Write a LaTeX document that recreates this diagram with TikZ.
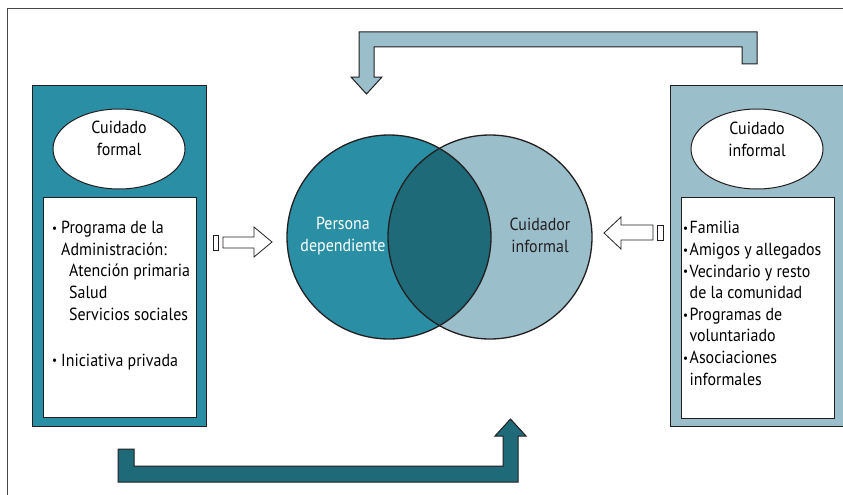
\documentclass[tikz,border=0pt]{standalone}
\usepackage{fontspec}
\usepackage{graphicx}
\setmainfont[FakeStretch=0.91]{PT Sans}
\usetikzlibrary{shapes.geometric}
\definecolor{tealA}{RGB}{42,143,165}
\definecolor{lblue}{RGB}{155,190,203}
\definecolor{dteal}{RGB}{31,106,121}
\definecolor{edge}{RGB}{35,31,32}
\definecolor{framec}{RGB}{70,70,70}
\newcommand{\smbul}{\raisebox{1.2pt}{\scalebox{0.7}{\textbullet}}}
\newcommand{\bulL}{\makebox[9pt][l]{\smbul}}
\newcommand{\bulR}{\makebox[6.5pt][l]{\smbul}}
\begin{document}
\begin{tikzpicture}[x=1pt,y=-1pt,
  txt/.style={font=\fontsize{17.5}{21.6}\selectfont, inner sep=0pt},
  panel/.style={draw=edge, line width=1.4pt, inner sep=0pt, anchor=north west},
  whitebox/.style={draw=edge, line width=1pt, fill=white, inner sep=0pt, anchor=north west},
  oval/.style={ellipse, draw=edge, line width=1pt, fill=white, inner sep=0pt, minimum width=132pt, minimum height=80pt},
  venn/.style={circle, draw=edge, line width=1.3pt, inner sep=0pt, minimum size=204pt},
  blockarrow/.style={draw=edge, line width=1pt, line join=miter},
  outlinearrow/.style={draw=edge, line width=0.8pt, fill=white, line join=miter}]
\useasboundingbox (0,0) rectangle (843,495);
\clip (0,0) rectangle (843,495);
\fill[white] (0,0) rectangle (843,495);
% outer frame (only left and top edges visible)
\coordinate (fbl) at (7.5,500);
\coordinate (ftl) at (7.5,8.5);
\coordinate (ftr) at (850,8.5);
\draw[framec, line width=1.2pt] (fbl) -- (ftl) -- (ftr);

% left panel
\node[panel, fill=tealA, minimum width=174pt, minimum height=341pt] (lpanel) at (32,85) {};
\node[whitebox, minimum width=153pt, minimum height=220pt] (lwhite) at (43,197) {};
\node[oval] (lov) at (119,149) {};
\node[txt, align=center, anchor=base] (lovt) at (119,155.5) {Cuidado\\formal};
\node[txt, align=left, anchor=base west] (ltext) at (52,366)
 {\bulL Programa de la\\
  \hspace*{9pt}Administración:\\
  \hspace*{17pt}Atención primaria\\
  \hspace*{17pt}Salud\\
  \hspace*{17pt}Servicios sociales\\[24.4pt]
  \bulL Iniciativa privada};

% right panel
\node[panel, fill=lblue, minimum width=180pt, minimum height=341pt] (rpanel) at (670,85) {};
\node[whitebox, minimum width=153pt, minimum height=221pt] (rwhite) at (681,197) {};
\node[oval] (rov) at (757,149) {};
\node[txt, align=center, anchor=base] (rovt) at (757,156) {Cuidado\\informal};
\node[txt, align=left, anchor=base west] (rtext) at (683,385)
 {\bulR Familia\\
  \bulR Amigos y allegados\\
  \bulR Vecindario y resto\\
  \hspace*{6.5pt}de la comunidad\\
  \bulR Programas de\\
  \hspace*{6.5pt}voluntariado\\
  \bulR Asociaciones\\
  \hspace*{6.5pt}informales};

% Venn diagram
\node[venn, fill=tealA, draw=none] (pd) at (389,237) {};
\node[venn, fill=lblue, draw=none] (ci) at (490,237) {};
\begin{scope}
  \clip (389,237) circle[radius=102pt];
  \fill[dteal] (490,237) circle[radius=102pt];
\end{scope}
\draw[edge, line width=1.3pt] (pd.center) circle[radius=102pt];
\draw[edge, line width=1.3pt] (ci.center) circle[radius=102pt];
\node[txt, align=center, anchor=base, text=white] (pdt) at (343,251) {Persona\\dependiente};
\node[txt, align=center, anchor=base, text=edge] (cit) at (540,252) {Cuidador\\informal};

% small outline arrows
\draw[outlinearrow] (213,235) rectangle (218,250);
\draw[outlinearrow] (223,237) -- (254,237) -- (254,227) -- (272,242) -- (254,257) -- (254,248) -- (223,248) -- cycle;
\draw[outlinearrow] (657,225) rectangle (663,240);
\draw[outlinearrow] (653,225) -- (621,225) -- (621,217) -- (604,233) -- (621,249) -- (621,240) -- (653,240) -- cycle;

% top block arrow
\draw[blockarrow, fill=lblue] (757,64) -- (757,32) -- (359,32) -- (359,77) -- (351,77) -- (366.5,94) -- (382,77) -- (374,77) -- (374,47) -- (742,47) -- (742,64) -- cycle;
% bottom block arrow
\draw[blockarrow, fill=dteal] (118,449) -- (118,482) -- (518,482) -- (518,436) -- (526,436) -- (510.5,419) -- (495,436) -- (503,436) -- (503,466) -- (134,466) -- (134,449) -- cycle;
\end{tikzpicture}
\end{document}
